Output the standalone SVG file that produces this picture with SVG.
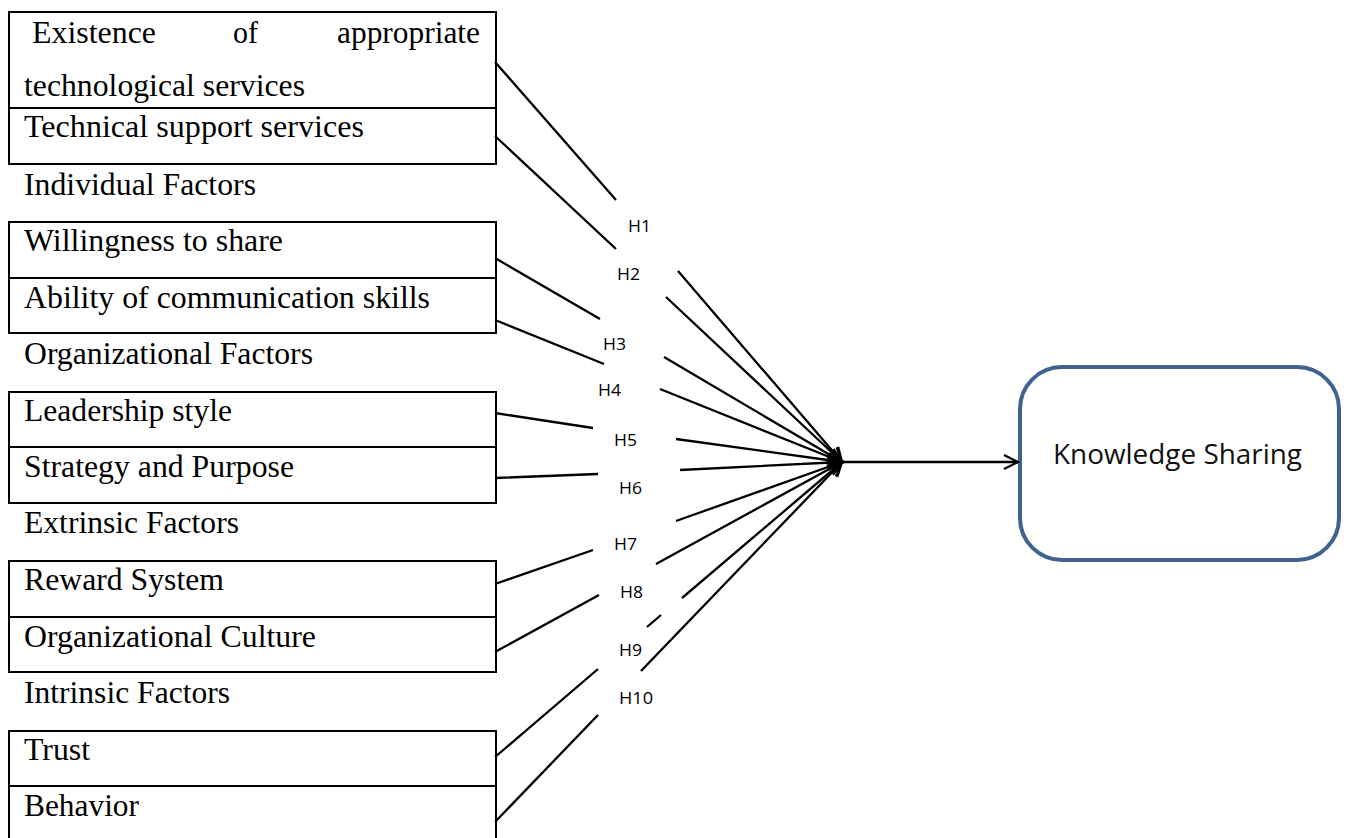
<svg xmlns="http://www.w3.org/2000/svg" width="1349" height="838" viewBox="0 0 1349 838">
<defs>
<style>
.cell{fill:#fff;stroke:#000;stroke-width:2}
.t{font-family:"Liberation Serif","Times New Roman",serif;font-size:31.5px;fill:#000}
.h{font-family:"Open Sans","Noto Sans",sans-serif;font-size:17px;fill:#000}
.c{fill:none;stroke:#000;stroke-width:2.3}
.ks{fill:#fff;stroke:#41618f;stroke-width:4}
.kt{font-family:"Open Sans","Noto Sans",sans-serif;font-size:27px;fill:#111}
</style>
<marker id="arr" markerUnits="userSpaceOnUse" markerWidth="20" markerHeight="20" viewBox="-16 -10 20 20" refX="0" refY="0" orient="auto">
<path d="M-14,-7 L0,0 L-14,7" fill="none" stroke="#000" stroke-width="2.2"/>
</marker>
</defs>
<rect width="1349" height="838" fill="#fff"/>

<g id="n-existence"><rect class="cell" x="9" y="12" width="487" height="96"/>
<text class="t" y="43"><tspan x="32" textLength="124" lengthAdjust="spacingAndGlyphs">Existence</tspan><tspan x="233" textLength="25" lengthAdjust="spacingAndGlyphs">of</tspan><tspan x="337" textLength="143" lengthAdjust="spacingAndGlyphs">appropriate</tspan></text>
<text class="t" x="24" y="96" textLength="281" lengthAdjust="spacingAndGlyphs">technological services</text></g>
<g id="n-technical"><rect class="cell" x="9" y="108" width="487" height="56"/>
<text class="t" x="24" y="137" textLength="340" lengthAdjust="spacingAndGlyphs">Technical support services</text></g>
<g id="l-individual"><text class="t" x="24" y="195" textLength="232" lengthAdjust="spacingAndGlyphs">Individual Factors</text></g>

<g id="n-willingness"><rect class="cell" x="9" y="222" width="487" height="56"/>
<text class="t" x="24" y="251" textLength="259" lengthAdjust="spacingAndGlyphs">Willingness to share</text></g>
<g id="n-ability"><rect class="cell" x="9" y="278" width="487" height="55"/>
<text class="t" x="24" y="308" textLength="406" lengthAdjust="spacingAndGlyphs">Ability of communication skills</text></g>
<g id="l-organizational"><text class="t" x="24" y="364" textLength="289" lengthAdjust="spacingAndGlyphs">Organizational Factors</text></g>

<g id="n-leadership"><rect class="cell" x="9" y="392" width="487" height="55"/>
<text class="t" x="24" y="421" textLength="208" lengthAdjust="spacingAndGlyphs">Leadership style</text></g>
<g id="n-strategy"><rect class="cell" x="9" y="447" width="487" height="56"/>
<text class="t" x="24" y="477" textLength="270" lengthAdjust="spacingAndGlyphs">Strategy and Purpose</text></g>
<g id="l-extrinsic"><text class="t" x="24" y="533" textLength="215" lengthAdjust="spacingAndGlyphs">Extrinsic Factors</text></g>

<g id="n-reward"><rect class="cell" x="9" y="561" width="487" height="56"/>
<text class="t" x="24" y="590" textLength="200" lengthAdjust="spacingAndGlyphs">Reward System</text></g>
<g id="n-culture"><rect class="cell" x="9" y="617" width="487" height="55"/>
<text class="t" x="24" y="647" textLength="292" lengthAdjust="spacingAndGlyphs">Organizational Culture</text></g>
<g id="l-intrinsic"><text class="t" x="24" y="703" textLength="206" lengthAdjust="spacingAndGlyphs">Intrinsic Factors</text></g>

<g id="n-trust"><rect class="cell" x="9" y="731" width="487" height="55"/>
<text class="t" x="24" y="760" textLength="66" lengthAdjust="spacingAndGlyphs">Trust</text></g>
<g id="n-behavior"><rect class="cell" x="9" y="786" width="487" height="60"/>
<text class="t" x="24" y="816" textLength="115" lengthAdjust="spacingAndGlyphs">Behavior</text></g>

<g id="n-knowledge"><rect class="ks" x="1020" y="367" width="319" height="193" rx="42" ry="42"/>
<text class="kt" x="1053" y="464" textLength="249" lengthAdjust="spacingAndGlyphs">Knowledge Sharing</text></g>

<g id="connectors">
<path class="c" marker-end="url(#arr)" d="M495,62 L616,200 M678,271 L842,462"/>
<path class="c" marker-end="url(#arr)" d="M495,136 L616,249 M666,297 L842,462"/>
<path class="c" marker-end="url(#arr)" d="M495,258 L600,319 M664,357 L842,462"/>
<path class="c" marker-end="url(#arr)" d="M495,320 L604,364 M660,389 L842,462"/>
<path class="c" marker-end="url(#arr)" d="M495,413 L593,428 M676,439 L842,462"/>
<path class="c" marker-end="url(#arr)" d="M495,478 L598,474 M680,470 L842,462"/>
<path class="c" marker-end="url(#arr)" d="M495,584 L593,550 M676,521 L842,462"/>
<path class="c" marker-end="url(#arr)" d="M495,652 L599,595 M656,564 L842,462"/>
<path class="c" marker-end="url(#arr)" d="M495,757 L598,669 M647,627 L661,615 M682,598 L842,462"/>
<path class="c" marker-end="url(#arr)" d="M495,822 L598,715 M641,671 L842,462"/>
<path class="c" marker-end="url(#arr)" d="M842,462 L1018,462"/>
</g>

<g id="labels">
<text class="h" x="628" y="232" textLength="23" lengthAdjust="spacingAndGlyphs">H1</text>
<text class="h" x="617" y="280" textLength="23" lengthAdjust="spacingAndGlyphs">H2</text>
<text class="h" x="603" y="350" textLength="23" lengthAdjust="spacingAndGlyphs">H3</text>
<text class="h" x="598" y="396" textLength="23" lengthAdjust="spacingAndGlyphs">H4</text>
<text class="h" x="614" y="446" textLength="23" lengthAdjust="spacingAndGlyphs">H5</text>
<text class="h" x="619" y="494" textLength="23" lengthAdjust="spacingAndGlyphs">H6</text>
<text class="h" x="614" y="550" textLength="23" lengthAdjust="spacingAndGlyphs">H7</text>
<text class="h" x="620" y="598" textLength="23" lengthAdjust="spacingAndGlyphs">H8</text>
<text class="h" x="619" y="656" textLength="23" lengthAdjust="spacingAndGlyphs">H9</text>
<text class="h" x="619" y="704" textLength="34" lengthAdjust="spacingAndGlyphs">H10</text>
</g>
</svg>
